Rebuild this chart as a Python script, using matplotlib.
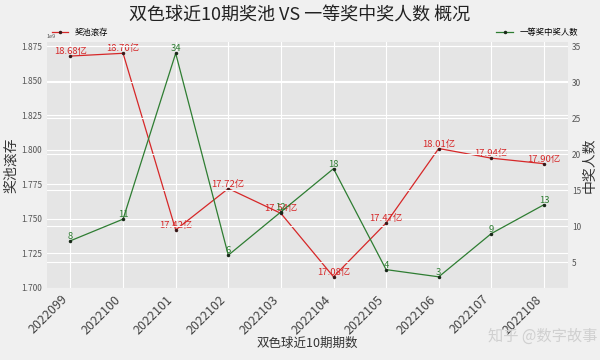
import numpy as np
import matplotlib
matplotlib.use('Agg')
from matplotlib import pyplot as plt
from matplotlib.ticker import MultipleLocator

plt.rcParams['font.family'] = ['Noto Sans CJK SC', 'DejaVu Sans']
plt.rcParams['axes.unicode_minus'] = False

# 数据
issues = ['2022099', '2022100', '2022101', '2022102', '2022103',
          '2022104', '2022105', '2022106', '2022107', '2022108']
pool_yi = [18.68, 18.70, 17.42, 17.72, 17.54, 17.08, 17.47, 18.01, 17.94, 17.90]
winners = [8, 11, 34, 6, 12, 18, 4, 3, 9, 13]

pool = np.array(pool_yi) * 1e8

fig = plt.figure(figsize=(6, 3.6), dpi=100, facecolor='#f0f0f0')
ax = fig.add_axes([0.078, 0.2, 0.868, 0.683])
ax.set_facecolor('#e5e5e5')
for s in ax.spines.values():
    s.set_visible(False)
ax.grid(True, color='white', lw=0.8)
ax.set_axisbelow(True)

x = np.arange(len(issues))
ax.plot(x, pool, color='#d62728', lw=0.9, marker='.', markersize=3,
        markerfacecolor='#3a1a1a', markeredgecolor='#3a1a1a', label='奖池滚存')
for xi, v, t in zip(x, pool, pool_yi):
    ax.text(xi, v, f'{t:.2f}亿', color='#d62728', fontsize=6.8,
            ha='center', va='bottom')

ax.yaxis.set_major_locator(MultipleLocator(0.025e9))
ax.set_xticks(x)
ax.set_xticklabels(issues, rotation=45, ha='right', fontsize=9, color='#444444')
ax.tick_params(axis='both', length=0)
ax.tick_params(axis='y', labelsize=6, colors='#555555')
ax.yaxis.get_offset_text().set_fontsize(4)
ax.set_ylabel('奖池滚存', fontsize=10, color='#333333', labelpad=2)
ax.set_xlabel('双色球近10期期数', fontsize=9, color='#333333', labelpad=0)

ax2 = ax.twinx()
for s in ax2.spines.values():
    s.set_visible(False)
ax2.grid(True, color='white', lw=0.8)
ax2.plot(x, winners, color='#2e7d32', lw=0.9, marker='.', markersize=3,
         markerfacecolor='#1a2a1a', markeredgecolor='#1a2a1a', label='一等奖中奖人数')
for xi, v in zip(x, winners):
    ax2.text(xi, v, str(v), color='#2e7d32', fontsize=6.8, ha='center', va='bottom')
ax2.tick_params(axis='y', length=0, labelsize=6, colors='#555555', pad=3)
ax2.set_ylabel('中奖人数', fontsize=10, color='#333333', labelpad=1)

ax.legend(loc='lower left', bbox_to_anchor=(0.0, 1.0), frameon=False,
          fontsize=6, borderaxespad=0.2, handlelength=2)
ax2.legend(loc='lower right', bbox_to_anchor=(1.03, 1.0), frameon=False,
           fontsize=6, borderaxespad=0.2, handlelength=2)

fig.suptitle('双色球近10期奖池 VS 一等奖中奖人数 概况', fontsize=13,
             color='#222222', y=0.985)

fig.text(0.995, 0.065, '知乎 @数字故事', fontsize=11, color='#d0d0d0',
         ha='right', va='center')

fig.savefig('out.png', dpi=100, facecolor=fig.get_facecolor())
